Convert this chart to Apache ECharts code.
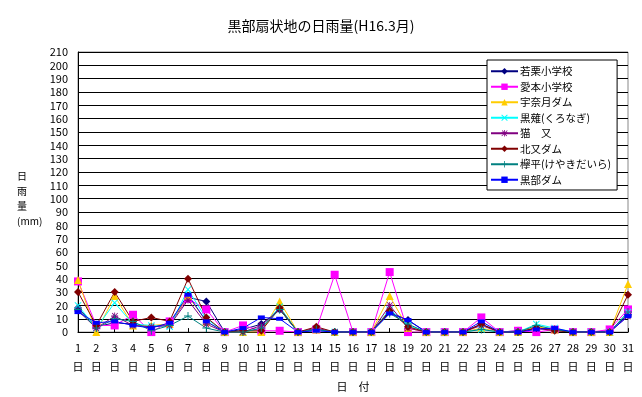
<!DOCTYPE html>
<html>
<head>
<meta charset="utf-8">
<script src="https://cdn.jsdelivr.net/npm/echarts@6/dist/echarts.min.js"></script>
<style>
  html, body { margin: 0; padding: 0; background: #fff; }
  #chart { width: 642px; height: 397px; }
</style>
</head>
<body>
<div id="chart"></div>
<script>
  // 日付 (3月)
  var days = [];
  for (var d = 1; d <= 31; d++) days.push(String(d));

  var stations = ['若栗小学校', '愛本小学校', '宇奈月ダム', '黒薙(くろなぎ)', '猫　又', '北又ダム', '欅平(けやきだいら)', '黒部ダム'];

  var wakakuri = [18, 4, 7, 6, 4, 6, 26, 23, 0, 2, 6, 17, 0, 2, 0, 0, 0, 15, 9, 0, 0, 0, 6, 0, 1, 3, 2, 0, 0, 1, 13];
  var aimoto   = [38, 5, 5, 13, 0, 8, 25, 17, 0, 5, 1, 1, 0, 2, 43, 0, 0, 45, 0, 0, 0, 0, 11, 0, 1, 0, 2, 0, 0, 2, 17];
  var unazuki  = [39, 0, 27, 5, 5, 6, 27, 8, 0, 0, 0, 23, 0, 2, 0, 0, 0, 27, 3, 0, 0, 0, 3, 0, 0, 4, 2, 0, 0, 0, 36];
  var kuronagi = [20, 3, 22, 6, 5, 4, 32, 10, 0, 0, 3, 19, 0, 2, 0, 0, 0, 17, 5, 0, 0, 0, 2, 0, 0, 6, 3, 0, 0, 0, 15];
  var nekomata = [16, 3, 12, 5, 4, 5, 24, 6, 0, 0, 5, 17, 0, 3, 0, 0, 0, 20, 3, 0, 0, 0, 5, 0, 0, 3, 2, 0, 0, 0, 12];
  var kitamata = [30, 5, 30, 8, 11, 8, 40, 11, 0, 1, 1, 18, 0, 4, 0, 0, 0, 16, 4, 0, 0, 0, 6, 0, 0, 3, 1, 0, 0, 0, 28];
  var keyakidaira = [17, 3, 10, 8, 1, 5, 12, 3, 0, 0, 3, 17, 0, 2, 0, 0, 0, 14, 6, 0, 0, 0, 2, 0, 0, 5, 2, 0, 0, 0, 15];
  var kurobe   = [15, 7, 8, 5, 3, 7, 28, 8, 0, 3, 11, 10, 0, 1, 0, 0, 0, 14, 9, 0, 0, 0, 8, 0, 0, 2, 3, 0, 0, 0, 12];

  var seriesData = [wakakuri, aimoto, unazuki, kuronagi, nekomata, kitamata, keyakidaira, kurobe];
  var colors = ['#000080', '#ff00ff', '#ffcc00', '#00ffff', '#800080', '#800000', '#008080', '#0000ff'];

  var crossPath = 'path://M1,0L5,4L9,0L10,1L6,5L10,9L9,10L5,6L1,10L0,9L4,5L0,1Z';
  var plusPath = 'path://M4.4,0H5.6V4.4H10V5.6H5.6V10H4.4V5.6H0V4.4H4.4Z';
  var starPath = 'path://M4.4,0H5.6V4H10V6H5.6V10H4.4V6H0V4H4.4ZM1,1L2,0.2L9,8.8L8,9.8ZM9,0.2L9.8,1L1,9.8L0.2,9Z';
  var symbols = ['diamond', 'rect', 'triangle', crossPath, starPath, 'diamond', plusPath, 'rect'];
  var sizes = [8, 8, 8, 7, 7, 8, 8, [7, 4]];

  var series = seriesData.map(function (vals, i) {
    return {
      name: stations[i],
      type: 'line',
      data: vals,
      symbol: symbols[i],
      symbolSize: sizes[i],
      showAllSymbol: true,
      lineStyle: { width: 1, color: colors[i] },
      itemStyle: { color: colors[i] },
      emphasis: { disabled: true }
    };
  });

  var chart = echarts.init(document.getElementById('chart'));
  chart.setOption({
    backgroundColor: '#fff',
    animation: false,
    textStyle: { fontFamily: 'Noto Sans CJK JP', color: '#000' },
    title: [
      {
        text: '黒部扇状地の日雨量(H16.3月)',
        left: 'center', top: 14,
        textStyle: { fontSize: 14, fontWeight: 'normal', color: '#000', fontFamily: 'Noto Sans CJK JP' }
      },
      {
        text: '日\n雨\n量\n(mm)',
        left: 12, top: 164,
        textAlign: 'left',
        textStyle: { fontSize: 10, fontWeight: 'normal', color: '#000', lineHeight: 15, fontFamily: 'Noto Sans CJK JP' }
      }
    ],
    legend: {
      orient: 'vertical',
      left: 487, top: 60,
      width: 130,
      padding: [6, 6, 5, 3],
      itemGap: 5,
      itemWidth: 27, itemHeight: 8,
      borderColor: '#000', borderWidth: 1,
      backgroundColor: '#fff',
      data: stations,
      textStyle: { fontSize: 10.5, color: '#000', fontFamily: 'Noto Sans CJK JP', padding: [0, 0, 0, -3] }
    },
    grid: { left: 78, right: 14, top: 52, bottom: 61, show: true, borderColor: '#888', borderWidth: 1 },
    xAxis: {
      type: 'category',
      data: days,
      boundaryGap: false,
      name: '日　付',
      nameLocation: 'middle',
      nameGap: 43,
      nameTextStyle: { fontSize: 11, color: '#000' },
      axisLine: { lineStyle: { color: '#000', width: 1 } },
      axisTick: { show: true, inside: true, length: 4, lineStyle: { color: '#000' } },
      axisLabel: {
        interval: 0, fontSize: 11, color: '#000', lineHeight: 19, margin: 6,
        formatter: function (v) { return v + '\n日'; }
      }
    },
    yAxis: {
      type: 'value',
      min: 0, max: 210, interval: 10,
      axisLine: { show: true, lineStyle: { color: '#000', width: 1 } },
      axisTick: { show: false },
      splitLine: { lineStyle: { color: '#000', width: 1 } },
      axisLabel: { fontSize: 11, color: '#000', margin: 10 }
    },
    series: series
  });
</script>
</body>
</html>
